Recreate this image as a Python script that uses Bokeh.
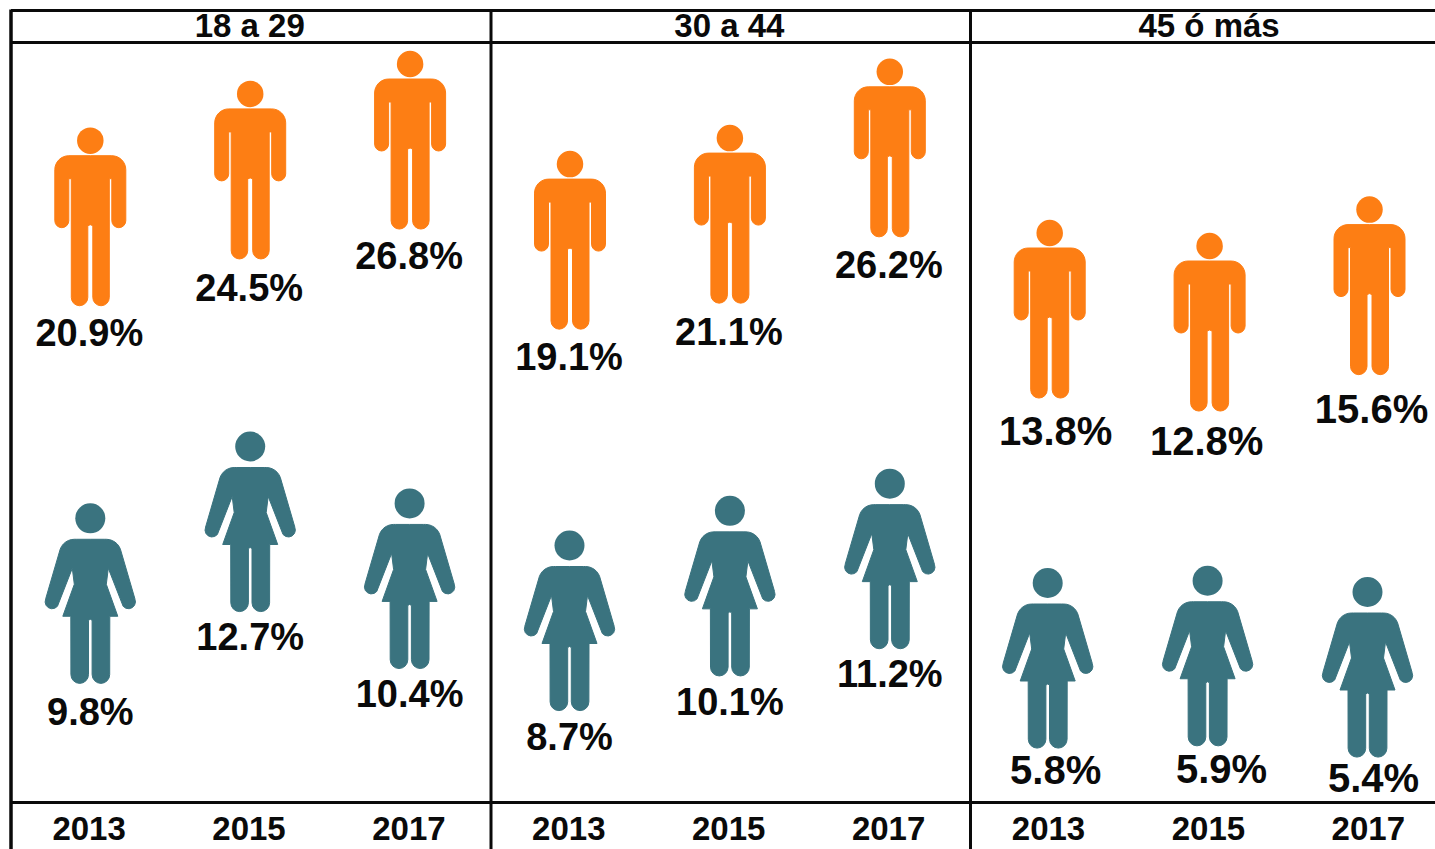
import math
from bokeh.core.properties import value
from bokeh.embed import file_html
from bokeh.models import ColumnDataSource, Range1d
from bokeh.plotting import figure
from bokeh.resources import INLINE

# ---------- data ----------
age_groups = ["18 a 29", "30 a 44", "45 ó más"]
years = ["2013", "2015", "2017"] * 3
men = [20.9, 24.5, 26.8, 19.1, 21.1, 26.2, 13.8, 12.8, 15.6]
women = [9.8, 12.7, 10.4, 8.7, 10.1, 11.2, 5.8, 5.9, 5.4]

# ---------- layout ----------
W, H = 1435, 849
PITCH = 159.9             # px per slot
X0 = 89.8                 # px of slot 0
MEN_PX = 13.0             # px per percentage point
WOMEN_A_PX = 24.75
WOMEN_B_PX = 22.5
ORANGE = "#FD7E14"
TEAL = "#3A737F"
BLACK = "#0A0A0A"
FONT = "Liberation Sans"


def slot_of(px):
    return (px - X0) / PITCH


def men_of(py):
    return 26.8 - (py - 63.5) / MEN_PX


def women_a_of(py):
    return 12.7 - (py - 446.0) / WOMEN_A_PX


def women_b_of(py):
    return 5.8 - (py - 582.5) / WOMEN_B_PX


p = figure(
    width=W, height=H, output_backend="svg", toolbar_location=None,
    x_range=Range1d(slot_of(0), slot_of(W)),
    y_range=Range1d(men_of(H), men_of(0)),
    min_border=0, outline_line_color=None,
)
p.extra_y_ranges = {
    "wa": Range1d(women_a_of(H), women_a_of(0)),
    "wb": Range1d(women_b_of(H), women_b_of(0)),
}
p.axis.visible = False
p.grid.visible = False
p.background_fill_color = "white"
p.border_fill_color = "white"


def arc(cx, cy, r, a0, a1, n=8):
    return [(cx + r * math.cos(math.radians(a0 + (a1 - a0) * i / n)),
             cy + r * math.sin(math.radians(a0 + (a1 - a0) * i / n))) for i in range(n + 1)]


def mirror(half):
    return half + [(-x, y) for x, y in reversed(half)]


# body outlines in px relative to the centre of the head, y downwards
man_half = (
    [(0, 15), (21.5, 15)] + arc(21.5, 29, 14, -90, 0)
    + arc(28.5, 80, 7, 0, 180)
    + [(21.5, 38), (19, 38)]
    + arc(10.75, 156.8, 8.25, 0, 180)
    + [(2.5, 85), (0, 84)]
)
woman_half = (
    [(0, 21), (14, 21)] + arc(16, 36, 15, -90, -20, 6)
    + [(44.6, 80.5)]
    + arc(38.2, 83.5, 7, -25, 140, 6)
    + [(18, 50), (16, 66), (27.5, 98), (19.5, 98)]
    + arc(10.6, 156.3, 8.8, 0, 180)
    + [(1.8, 102), (0, 101)]
)
man_shape = mirror(man_half)
woman_shape = mirror(woman_half)


def bodies(slots, vals, shape, per_pct):
    xs = [[s + dx / PITCH for dx, _ in shape] for s in slots]
    ys = [[v - dy / per_pct for _, dy in shape] for v in vals]
    return xs, ys


slots = list(range(9))
# women of the third panel sit 2 px left of the men
w_nudge = [0, 0, -0.5 / PITCH, -0.5 / PITCH, 0, 0, -2 / PITCH, -2 / PITCH, -2 / PITCH]
w_slots = [s + n for s, n in zip(slots, w_nudge)]

# men
xs, ys = bodies(slots, men, man_shape, MEN_PX)
p.patches(xs, ys, fill_color=ORANGE, line_color=ORANGE, line_width=1)
p.scatter(slots, men, size=26.5, marker="circle", fill_color=ORANGE, line_color=None)

# women, two vertical scales
w_groups = (("wa", range(0, 6), WOMEN_A_PX), ("wb", range(6, 9), WOMEN_B_PX))
for rng, idx, per_pct in w_groups:
    ws = [w_slots[i] for i in idx]
    wv = [women[i] for i in idx]
    xs, ys = bodies(ws, wv, woman_shape, per_pct)
    p.patches(xs, ys, fill_color=TEAL, line_color=TEAL, line_width=1, y_range_name=rng)
    p.scatter(ws, wv, size=30, marker="circle", fill_color=TEAL, line_color=None, y_range_name=rng)

# value labels: offsets in px from the head centre
men_dx = [-1, -1, -1, -1, -1, -1, 6, -3, 2]
men_dy = [192, 194, 192, 193, 194, 193, 198, 195, 199]
men_fs = ["38px"] * 6 + ["40px"] * 3
p.text(x="x", y="y", text="t", x_offset="dx", y_offset="dy", text_font_size="fs",
       text_font=value(FONT), text_font_style="bold", text_color=BLACK,
       text_align="center", text_baseline="middle",
       source=ColumnDataSource(dict(x=slots, y=men, t=[f"{v:.1f}%" for v in men],
                                    dx=men_dx, dy=men_dy, fs=men_fs)))

women_dx = [0, 0, 0, 0, 0, 0, 8, 14, 6]
women_dy = [193.5, 190.5, 190.5, 191.5, 191.5, 190.5, 186.5, 188.5, 186]
women_fs = ["38px"] * 6 + ["40px"] * 3
for rng, idx, _ in w_groups:
    p.text(x="x", y="y", text="t", x_offset="dx", y_offset="dy", text_font_size="fs",
           text_font=value(FONT), text_font_style="bold", text_color=BLACK,
           text_align="center", text_baseline="middle", y_range_name=rng,
           source=ColumnDataSource(dict(x=[w_slots[i] for i in idx], y=[women[i] for i in idx],
                                        t=[f"{women[i]:.1f}%" for i in idx],
                                        dx=[women_dx[i] for i in idx], dy=[women_dy[i] for i in idx],
                                        fs=[women_fs[i] for i in idx])))

# table frame
TOP, HEAD, BOTTOM = 10, 42, 802
LEFT, DIV1, DIV2 = 10.5, 490.5, 970
RIGHT, END = 1435, 849
seg_x0 = [LEFT, LEFT, LEFT, LEFT, DIV1, DIV2]
seg_x1 = [RIGHT, RIGHT, RIGHT, LEFT, DIV1, DIV2]
seg_y0 = [TOP, HEAD, BOTTOM, TOP - 1, TOP - 1, TOP - 1]
seg_y1 = [TOP, HEAD, BOTTOM, END, END, END]
seg_w = [3, 3, 3, 3.5, 3, 3]
p.segment([slot_of(v) for v in seg_x0], [men_of(v) for v in seg_y0],
          [slot_of(v) for v in seg_x1], [men_of(v) for v in seg_y1],
          line_color=BLACK, line_width=seg_w)

# group headers and year labels
p.text(x=[1, 4, 7], y=[men_of(24.5)] * 3, text=age_groups, text_font=value(FONT),
       x_offset=-0.5, text_font_size="33px", text_font_style="bold", text_color=BLACK,
       text_align="center", text_baseline="middle")
p.text(x=slots, y=[men_of(828)] * 9, text=years, text_font=value(FONT),
       x_offset=-1.2, text_font_size="33px", text_font_style="bold", text_color=BLACK,
       text_align="center", text_baseline="middle")

open("out.html", "w").write(file_html(p, INLINE))
